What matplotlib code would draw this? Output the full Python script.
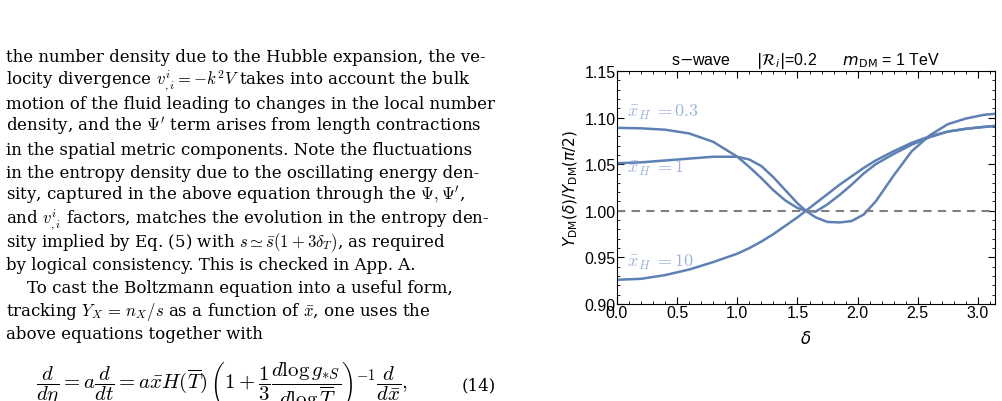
import numpy as np
import matplotlib
matplotlib.use("Agg")
from matplotlib import pyplot as plt
from matplotlib.ticker import MultipleLocator, FormatStrFormatter

plt.rcParams["mathtext.fontset"] = "cm"
plt.rcParams["font.family"] = ["Liberation Sans", "DejaVu Sans"]

# curve samples
delta = [0.0, 0.2, 0.4, 0.6, 0.8, 1.0, 1.1, 1.2, 1.3, 1.4, 1.5, 1.57, 1.65,
         1.75, 1.85, 1.95, 2.05, 2.15, 2.3, 2.45, 2.6, 2.75, 2.9, 3.05, 3.1416]
y_03 = [1.089, 1.0885, 1.087, 1.083, 1.074, 1.058, 1.047, 1.035, 1.022, 1.011,
        1.003, 1.0, 0.993, 0.988, 0.9875, 0.989, 0.996, 1.010, 1.038, 1.064,
        1.081, 1.093, 1.099, 1.103, 1.104]
y_1 = [1.051, 1.052, 1.054, 1.056, 1.058, 1.058, 1.055, 1.048, 1.036, 1.022,
       1.008, 1.0, 0.999, 1.007, 1.017, 1.028, 1.040, 1.050, 1.061, 1.071,
       1.079, 1.085, 1.088, 1.090, 1.091]
y_10 = [0.926, 0.927, 0.931, 0.937, 0.945, 0.954, 0.960, 0.967, 0.975, 0.984,
        0.993, 1.0, 1.008, 1.018, 1.028, 1.037, 1.046, 1.054, 1.064, 1.073,
        1.080, 1.085, 1.088, 1.090, 1.091]
labels = [r"$\bar{x}_H\;=0.3$", r"$\bar{x}_H\;=1$", r"$\bar{x}_H\;=10$"]
label_y = [1.107, 1.047, 0.946]

text_lines = [
    r"the number density due to the Hubble expansion, the ve-",
    r"locity divergence $v^{i}_{,i}=-k^2V$ takes into account the bulk",
    r"motion of the fluid leading to changes in the local number",
    r"density, and the $\Psi'$ term arises from length contractions",
    r"in the spatial metric components. Note the fluctuations",
    r"in the entropy density due to the oscillating energy den-",
    r"sity, captured in the above equation through the $\Psi,\Psi'$,",
    r"and $v^{i}_{,i}$ factors, matches the evolution in the entropy den-",
    r"sity implied by Eq. (5) with $s\simeq\bar{s}(1+3\delta_T)$, as required",
    r"by logical consistency. This is checked in App. A.",
    r"    To cast the Boltzmann equation into a useful form,",
    r"tracking $Y_X\,=\,n_X/s$ as a function of $\bar{x}$, one uses the",
    r"above equations together with",
]

fig = plt.figure(figsize=(10.02, 4.02), dpi=100)
W, H = 1002, 402
for i, line in enumerate(text_lines):
    fig.text(6 / W, 1 - (58 + 23.05 * i) / H, line, fontsize=12,
             family="DejaVu Serif", va="center", ha="left")
fig.text(36 / W, 1 - 386 / H,
         r"$\dfrac{d}{d\eta}=a\dfrac{d}{dt}=a\bar{x}H(\overline{T})\,"
         r"\left(1+\dfrac{1}{3}\dfrac{d\log g_{*S}}{d\log\overline{T}}\right)^{-1}"
         r"\dfrac{d}{d\bar{x}},$", fontsize=15, va="center", ha="left")
fig.text(462 / W, 1 - 386 / H, "(14)", fontsize=12, family="DejaVu Serif",
         va="center", ha="left")

ax = fig.add_axes([617 / W, 1 - 305 / H, (995 - 617) / W, (305 - 72) / H])
col = "#5E81B5"
for ys in (y_03, y_1, y_10):
    ax.plot(delta, ys, color=col, lw=1.8)
ax.axhline(1.0, color="#808080", ls=(0, (4, 3)), lw=1.5)
for lab, ly in zip(labels, label_y):
    ax.text(0.08, ly, lab, color="#9FB3DA", fontsize=13, va="center")
ax.set_xlim(0, np.pi)
ax.set_ylim(0.90, 1.15)
ax.xaxis.set_major_locator(MultipleLocator(0.5))
ax.xaxis.set_minor_locator(MultipleLocator(0.1))
ax.yaxis.set_major_locator(MultipleLocator(0.05))
ax.yaxis.set_minor_locator(MultipleLocator(0.01))
ax.tick_params(which="both", direction="in", top=True, right=True,
               labelsize=11.5, pad=1)
ax.tick_params(which="major", length=5)
ax.tick_params(which="minor", length=2.5)
ax.xaxis.set_major_formatter(FormatStrFormatter("%.1f"))
ax.yaxis.set_major_formatter(FormatStrFormatter("%.2f"))
ax.set_title(r"s$-$wave      $|\mathcal{R}_i|$=0.2      $m_{\mathrm{DM}}$ = 1 TeV",
             fontsize=11.5, pad=5, math_fontfamily="dejavusans")
ax.set_ylabel(r"$Y_{\mathrm{DM}}(\delta)/Y_{\mathrm{DM}}(\pi/2)$", fontsize=11,
              labelpad=3, math_fontfamily="dejavusans")
ax.set_xlabel(r"$\delta$", fontsize=12, labelpad=6, math_fontfamily="dejavusans")

fig.savefig("out.png", dpi=100)
